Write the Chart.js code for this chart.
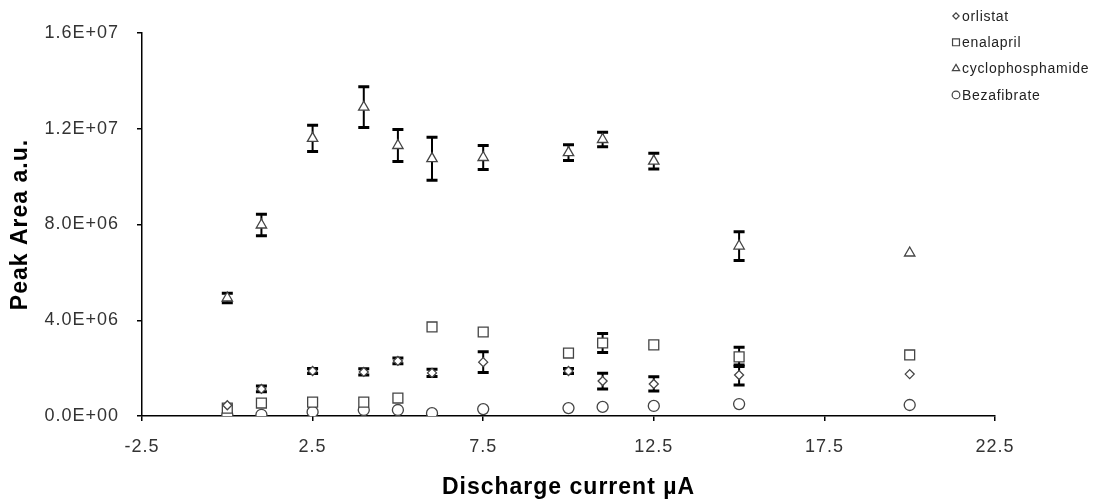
<!DOCTYPE html>
<html>
<head>
<meta charset="UTF-8">
<title>Peak Area vs Discharge current</title>
<script src="https://cdn.jsdelivr.net/npm/chart.js@4.4.0/dist/chart.umd.min.js"></script>
<style>
  body { margin: 0; background: #fff; }
</style>
</head>
<body>
<canvas id="peak-chart" width="1097" height="501"></canvas>
<script>
// discharge current (µA)
const current = [0, 1, 2.5, 4, 5, 6, 7.5, 10, 11, 12.5, 15, 20];

// peak areas
const orlistat = [0.45e6, 1.13e6, 1.88e6, 1.84e6, 2.3e6, 1.8e6, 2.25e6, 1.88e6, 1.46e6, 1.34e6, 1.71e6, 1.75e6];
const orlistatErr = [null, 0.12e6, 0.1e6, 0.13e6, 0.12e6, 0.15e6, 0.43e6, 0.1e6, 0.33e6, 0.3e6, 0.42e6, null];

const enalapril = [0.33e6, 0.54e6, 0.58e6, 0.58e6, 0.75e6, 3.72e6, 3.51e6, 2.63e6, 3.05e6, 2.97e6, 2.47e6, 2.55e6];
const enalaprilErr = [null, null, null, null, null, null, null, null, 0.4e6, null, 0.4e6, null];

const cyclophosphamide = [4.93e6, 7.98e6, 11.6e6, 12.9e6, 11.3e6, 10.75e6, 10.8e6, 11.0e6, 11.55e6, 10.65e6, 7.1e6, 6.81e6];
const cyclophosphamideErr = [0.2e6, 0.45e6, 0.55e6, 0.85e6, 0.67e6, 0.9e6, 0.5e6, 0.33e6, 0.3e6, 0.33e6, 0.6e6, null];

const bezafibrate = [0.05e6, 0.05e6, 0.17e6, 0.25e6, 0.25e6, 0.12e6, 0.29e6, 0.33e6, 0.38e6, 0.42e6, 0.5e6, 0.46e6];

const xTicksMin = -2.5, xTicksMax = 22.5, xStep = 5;
const yMax = 1.6e7, yStep = 4e6;

function toPoints(values) {
  return values.map((v, i) => ({ x: current[i], y: v }));
}

function sciLabel(v) {
  // Excel style 1.6E+07
  const parts = Number(v).toExponential(1).toUpperCase().split('E');
  let exp = parseInt(parts[1], 10);
  const sign = exp < 0 ? '-' : '+';
  exp = Math.abs(exp);
  return parts[0] + 'E' + sign + (exp < 10 ? '0' + exp : exp);
}

const markerColor = '#444';
const fontFamily = '"Liberation Sans", Arial, sans-serif';

const series = [
  { label: 'orlistat', values: orlistat, err: orlistatErr, style: 'rectRot', radius: 4.5 },
  { label: 'enalapril', values: enalapril, err: enalaprilErr, style: 'rect', radius: 7 },
  { label: 'cyclophosphamide', values: cyclophosphamide, err: cyclophosphamideErr, style: 'triangle', radius: 6 },
  { label: 'Bezafibrate', values: bezafibrate, err: null, style: 'circle', radius: 5.5 }
];

// the Excel text is a bit spread out
const spacing = {
  id: 'spacing',
  beforeDraw(chart) {
    chart.ctx.letterSpacing = '1px';
  }
};

// error bars, drawn under the markers
const errorBars = {
  id: 'errorBars',
  beforeDatasetsDraw(chart) {
    const ctx = chart.ctx;
    const xs = chart.scales.x, ys = chart.scales.y;
    ctx.save();
    ctx.strokeStyle = '#000';
    series.forEach(s => {
      if (!s.err) return;
      s.values.forEach((v, i) => {
        const e = s.err[i];
        if (e == null) return;
        const px = xs.getPixelForValue(current[i]);
        const top = ys.getPixelForValue(v + e);
        const bot = ys.getPixelForValue(v - e);
        ctx.lineWidth = 2;
        ctx.beginPath();
        ctx.moveTo(px, top);
        ctx.lineTo(px, bot);
        ctx.stroke();
        ctx.lineWidth = 3;
        ctx.beginPath();
        ctx.moveTo(px - 5.5, top);
        ctx.lineTo(px + 5.5, top);
        ctx.moveTo(px - 5.5, bot);
        ctx.lineTo(px + 5.5, bot);
        ctx.stroke();
      });
    });
    ctx.restore();
  }
};

// legend at the top right, like the Excel one
const cornerLegend = {
  id: 'cornerLegend',
  afterDraw(chart) {
    const ctx = chart.ctx;
    ctx.save();
    ctx.font = '14px ' + fontFamily;
    ctx.letterSpacing = '0.7px';
    ctx.textBaseline = 'middle';
    ctx.textAlign = 'left';
    series.forEach((s, i) => {
      const y = 16 + i * 26.3;
      ctx.fillStyle = '#fff';
      ctx.strokeStyle = markerColor;
      ctx.lineWidth = 1.2;
      Chart.helpers.drawPoint(ctx, { pointStyle: s.style, radius: s.radius * 0.7, rotation: 0, borderWidth: 1.2 }, 956, y);
      ctx.fillStyle = '#222';
      ctx.fillText(s.label, 962, y + 1);
    });
    ctx.restore();
  }
};

const ctx = document.getElementById('peak-chart').getContext('2d');

new Chart(ctx, {
  type: 'scatter',
  data: {
    datasets: series.map(s => ({
      label: s.label,
      data: toPoints(s.values),
      pointStyle: s.style,
      pointRadius: s.radius,
      pointHoverRadius: s.radius,
      pointBackgroundColor: '#fff',
      pointBorderColor: markerColor,
      pointBorderWidth: 1.3,
      showLine: false
    }))
  },
  options: {
    responsive: false,
    animation: false,
    devicePixelRatio: 1,
    layout: { padding: { left: 0, top: 33, right: 102, bottom: 0 } },
    plugins: {
      legend: { display: false },
      tooltip: { enabled: false }
    },
    scales: {
      x: {
        type: 'linear',
        min: xTicksMin,
        max: xTicksMax,
        afterFit(scale) { scale.height = 85; },
        border: { display: true, color: '#000', width: 1.5 },
        grid: { display: true, drawOnChartArea: false, drawTicks: true, tickLength: 5, color: '#000', lineWidth: 1.5 },
        ticks: {
          stepSize: xStep,
          padding: 15,
          color: '#333',
          font: { family: fontFamily, size: 18 },
          callback: v => Number(v).toFixed(1)
        },
        title: {
          display: true,
          text: 'Discharge current µA',
          color: '#000',
          padding: { top: 0, bottom: 0 },
          font: { family: fontFamily, size: 23, weight: 'bold', lineHeight: 1.2 }
        }
      },
      y: {
        type: 'linear',
        min: 0,
        max: yMax,
        afterFit(scale) { scale.width = 142; },
        border: { display: true, color: '#000', width: 1.5 },
        grid: { display: true, drawOnChartArea: false, drawTicks: true, tickLength: 5, color: '#000', lineWidth: 1.5 },
        ticks: {
          stepSize: yStep,
          padding: 18,
          color: '#333',
          font: { family: fontFamily, size: 18 },
          callback: v => sciLabel(v)
        },
        title: {
          display: true,
          text: 'Peak Area a.u.',
          color: '#000',
          padding: { top: 7, bottom: 0 },
          font: { family: fontFamily, size: 23, weight: 'bold', lineHeight: 1.2 }
        }
      }
    }
  },
  plugins: [spacing, errorBars, cornerLegend]
});
</script>
</body>
</html>
